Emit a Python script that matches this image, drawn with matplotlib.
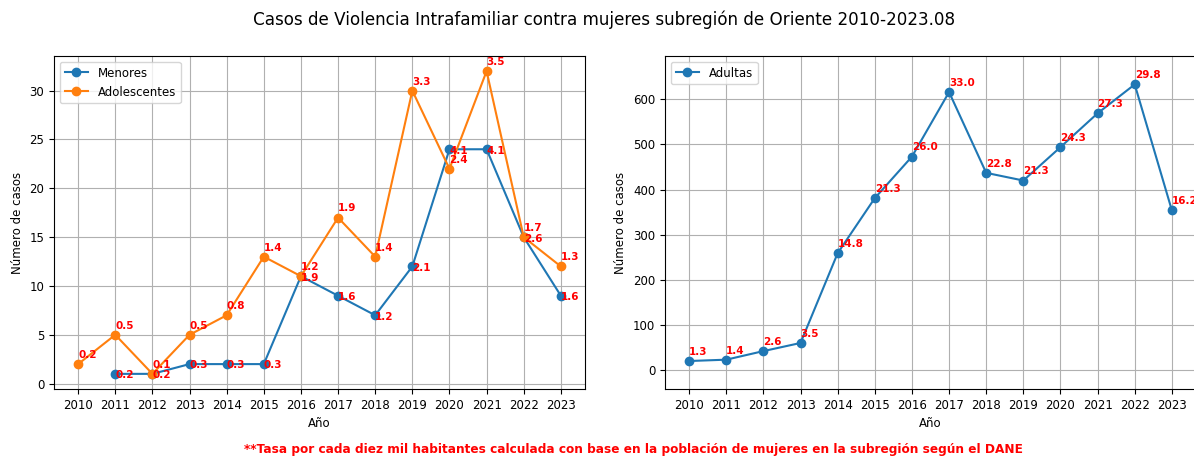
import matplotlib
matplotlib.use("Agg")
import matplotlib.pyplot as plt
import numpy as np

plt.rcParams['font.family'] = ['DejaVu Sans']

years = [2010, 2011, 2012, 2013, 2014, 2015, 2016, 2017, 2018, 2019, 2020, 2021, 2022, 2023]
menores_years = [2011, 2012, 2013, 2014, 2015, 2016, 2017, 2018, 2019, 2020, 2021, 2022, 2023]
menores = [1, 1, 2, 2, 2, 11, 9, 7, 12, 24, 24, 15, 9]
menores_tasa = [0.2, 0.2, 0.3, 0.3, 0.3, 1.9, 1.6, 1.2, 2.1, 4.1, 4.1, 2.6, 1.6]
adolescentes = [2, 5, 1, 5, 7, 13, 11, 17, 13, 30, 22, 32, 15, 12]
adolescentes_tasa = [0.2, 0.5, 0.1, 0.5, 0.8, 1.4, 1.2, 1.9, 1.4, 3.3, 2.4, 3.5, 1.7, 1.3]
adultas = [20, 23, 42, 60, 259, 381, 473, 616, 437, 420, 494, 569, 633, 354]
adultas_tasa = [1.3, 1.4, 2.6, 3.5, 14.8, 21.3, 26.0, 33.0, 22.8, 21.3, 24.3, 27.3, 29.8, 16.2]

title = "Casos de Violencia Intrafamiliar contra mujeres subregión de Oriente 2010-2023.08"
note = "**Tasa por cada diez mil habitantes calculada con base en la población de mujeres en la subregión según el DANE"

fig = plt.figure(figsize=(11.94, 4.57), dpi=100)
ax1 = fig.add_axes([54/1194, 68/457, 531/1194, 333/457])
ax2 = fig.add_axes([665/1194, 68/457, 531/1194, 333/457])

c_blue = '#1f77b4'
c_orange = '#ff7f0e'
tick_fs = 8.5
ann_fs = 7.5

ax1.plot(menores_years, menores, marker='o', color=c_blue, label='Menores', zorder=3)
ax1.plot(years, adolescentes, marker='o', color=c_orange, label='Adolescentes', zorder=3)
for x, y, t in zip(menores_years, menores, menores_tasa):
    ax1.annotate(f"{t:.1f}", (x, y), xytext=(0, -1), textcoords='offset points',
                 ha='left', va='center', color='red', fontweight='bold', fontsize=ann_fs, zorder=4)
for x, y, t in zip(years, adolescentes, adolescentes_tasa):
    ax1.annotate(f"{t:.1f}", (x, y), xytext=(0, 3), textcoords='offset points',
                 ha='left', va='bottom', color='red', fontweight='bold', fontsize=ann_fs, zorder=4)

ax2.plot(years, adultas, marker='o', color=c_blue, label='Adultas', zorder=3)
for x, y, t in zip(years, adultas, adultas_tasa):
    ax2.annotate(f"{t:.1f}", (x, y), xytext=(0, 3), textcoords='offset points',
                 ha='left', va='bottom', color='red', fontweight='bold', fontsize=ann_fs, zorder=4)
ax2.set_ylim(-42, 696)

for ax in (ax1, ax2):
    ax.set_xticks(years)
    ax.set_xticklabels([str(y) for y in years])
    ax.tick_params(labelsize=tick_fs)
    ax.grid(True, color='#b0b0b0', linewidth=0.8)
    ax.set_axisbelow(True)
    ax.set_xlabel('Año', fontsize=tick_fs)
    ax.set_ylabel('Número de casos', fontsize=tick_fs)
    ax.legend(loc='upper left', fontsize=tick_fs)

fig.text(604/1194, 1 - 20/457, title, ha='center', va='center', fontsize=12.1)
fig.text(633/1194, 1 - 449/457, note, ha='center', va='center', color='red',
         fontweight='bold', fontsize=8.7)

fig.savefig('out.png', dpi=100)
